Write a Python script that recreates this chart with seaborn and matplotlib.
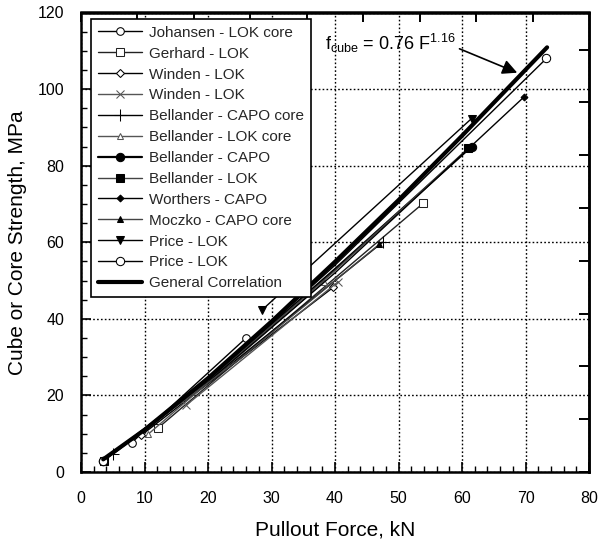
import matplotlib
matplotlib.use("Agg")
import matplotlib.pyplot as plt
import seaborn as sns
import pandas as pd

sns.set_theme(style="white")
plt.rcParams['font.family'] = ['Liberation Sans', 'DejaVu Sans']
plt.rcParams['mathtext.default'] = 'regular'

# ---- data ----
johansen_x = [8.0, 26.0];   johansen_y = [7.7, 35.0]
gerhard_x = [12.2, 53.9];   gerhard_y = [11.6, 70.2]
winden_d_x = [9.5, 25.0, 39.7];   winden_d_y = [9.6, 29.5, 48.2]
winden_x_x = [16.6, 40.5];  winden_x_y = [17.5, 49.7]
bel_capo_core_x = [5.0, 25.0, 47.5]; bel_capo_core_y = [4.6, 30.0, 60.0]
bel_lok_core_x = [10.6, 25.0, 38.2]; bel_lok_core_y = [9.9, 30.5, 49.5]
bel_capo_x = [3.5, 20.0, 40.0, 61.5];   bel_capo_y = [3.0, 24.0, 53.0, 85.0]
bel_lok_x = [3.6, 20.0, 40.0, 61.0];    bel_lok_y = [3.0, 23.8, 52.6, 84.6]
worthers_x = [3.5, 20.0, 40.0, 69.8];   worthers_y = [3.0, 23.5, 52.0, 98.0]
moczko_x = [3.5, 25.0, 47.0];     moczko_y = [3.0, 29.5, 59.5]
price_t_x = [28.5, 61.5];   price_t_y = [42.3, 92.3]
price_c_x = [3.5, 20.0, 40.0, 73.3];    price_c_y = [3.0, 24.0, 54.0, 108.0]
general_x = [3.5, 10.0, 20.0, 30.0, 40.0, 50.0, 60.0, 73.4]
general_y = [3.3, 11.0, 24.5, 39.3, 54.9, 71.0, 87.8, 110.9]

series = [
    ("Johansen - LOK core", johansen_x, johansen_y, dict(color='black', marker='o', mfc='white', mec='black', ms=5.5, lw=1.0)),
    ("Gerhard - LOK", gerhard_x, gerhard_y, dict(color='#222222', marker='s', mfc='white', mec='#222222', ms=6, lw=1.0)),
    ("Winden - LOK", winden_d_x, winden_d_y, dict(color='black', marker='D', mfc='white', mec='black', ms=4, lw=1.0, markevery=[0, 2])),
    ("Winden - LOK", winden_x_x, winden_x_y, dict(color='#555555', marker='x', mec='#555555', ms=6, lw=1.0)),
    ("Bellander - CAPO core", bel_capo_core_x, bel_capo_core_y, dict(color='black', marker='+', mec='black', ms=8, lw=1.0, markevery=[0, 2])),
    ("Bellander - LOK core", bel_lok_core_x, bel_lok_core_y, dict(color='#555555', marker='^', mfc='white', mec='#555555', ms=5, lw=1.0, markevery=[0, 2])),
    ("Bellander - CAPO", bel_capo_x, bel_capo_y, dict(color='black', marker='o', mfc='black', mec='black', ms=6, lw=1.6, markevery=[0, 3])),
    ("Bellander - LOK", bel_lok_x, bel_lok_y, dict(color='#444444', marker='s', mfc='black', mec='black', ms=6, lw=1.0, markevery=[0, 3])),
    ("Worthers - CAPO", worthers_x, worthers_y, dict(color='black', marker='D', mfc='black', mec='black', ms=3.5, lw=1.0, markevery=[0, 3])),
    ("Moczko - CAPO core", moczko_x, moczko_y, dict(color='#444444', marker='^', mfc='black', mec='black', ms=5, lw=1.0, markevery=[0, 2])),
    ("Price - LOK", price_t_x, price_t_y, dict(color='black', marker='v', mfc='black', mec='black', ms=6, lw=1.0)),
    ("Price - LOK", price_c_x, price_c_y, dict(color='black', marker='o', mfc='white', mec='black', ms=6, lw=1.0, markevery=[0, 3])),
    ("General Correlation", general_x, general_y, dict(color='black', lw=3.0)),
]

fig = plt.figure(figsize=(5.98, 5.46), dpi=100)
ax = fig.add_axes([81/598, 1-472/546, (589-81)/598, (472-12.5)/546])

handles = []
for label, xs, ys, st in series:
    df = pd.DataFrame({"x": xs, "y": ys})
    sns.lineplot(data=df, x="x", y="y", ax=ax, sort=False, estimator=None,
                 label=label, legend=False, **st)
    handles.append(ax.get_lines()[-1])

ax.set_xlim(0, 80)
ax.set_ylim(0, 120)
ax.set_xticks(range(0, 81, 10))
ax.set_yticks(range(0, 121, 20))
ax.set_xticks(range(0, 81, 2), minor=True)
ax.set_yticks(range(0, 121, 5), minor=True)
ax.tick_params(axis='both', which='major', direction='in', length=7, width=1.2,
               labelsize=11.5, colors='black', bottom=True, left=True, top=False, right=False)
ax.tick_params(axis='x', which='major', pad=14)
ax.tick_params(axis='y', which='major', pad=12)
ax.tick_params(axis='both', which='minor', direction='in', length=4, width=1.0,
               bottom=True, left=True, top=False, right=False, color='black')

for sp in ax.spines.values():
    sp.set_color('black')
    sp.set_linewidth(1.8)

ax.grid(True, which='major', color='black', linestyle=(0, (1.2, 1.6)), linewidth=1.0)
ax.set_axisbelow(True)

# secondary axes (kips on top, psi on right), ticks only
kn_per_kip = 4.448
mpa_per_psi = 0.006895
top = ax.secondary_xaxis('top', functions=(lambda v: v / kn_per_kip, lambda v: v * kn_per_kip))
top.set_xticks(range(0, 19, 2))
top.tick_params(axis='x', which='major', direction='in', length=7, width=1.4,
                top=True, bottom=False, labeltop=False, labelbottom=False, color='black')
top.spines['top'].set_linewidth(1.8)
top.spines['top'].set_color('black')
right = ax.secondary_yaxis('right', functions=(lambda v: v / mpa_per_psi, lambda v: v * mpa_per_psi))
right.set_yticks(range(0, 18001, 2000))
right.tick_params(axis='y', which='major', direction='in', length=7, width=1.4,
                  right=True, left=False, labelright=False, labelleft=False, color='black')
right.spines['right'].set_linewidth(1.8)
right.spines['right'].set_color('black')

ax.set_xlabel("Pullout Force, kN", fontsize=15, labelpad=10, color='black')
ax.set_ylabel("Cube or Core Strength, MPa", fontsize=15, labelpad=8, color='black')

leg = ax.legend(handles=handles, labels=[s[0] for s in series],
                loc='upper left', bbox_to_anchor=(0.019, 0.986), fontsize=11.0,
                frameon=True, fancybox=False, edgecolor='black', framealpha=1,
                handlelength=2.9, handletextpad=0.45, labelspacing=0.45,
                borderpad=0.45, borderaxespad=0, numpoints=1)
leg.get_frame().set_linewidth(1.2)

ax.text(38.4, 110.2, r"$f_{cube}$ = 0.76 F$^{1.16}$", fontsize=13, va='baseline', ha='left', color='black')
ax.annotate("", xy=(69.1, 104.0), xytext=(59.2, 110.8),
            arrowprops=dict(arrowstyle='-|>', color='black', lw=1.2, mutation_scale=22))

fig.savefig("out.png", dpi=100)
